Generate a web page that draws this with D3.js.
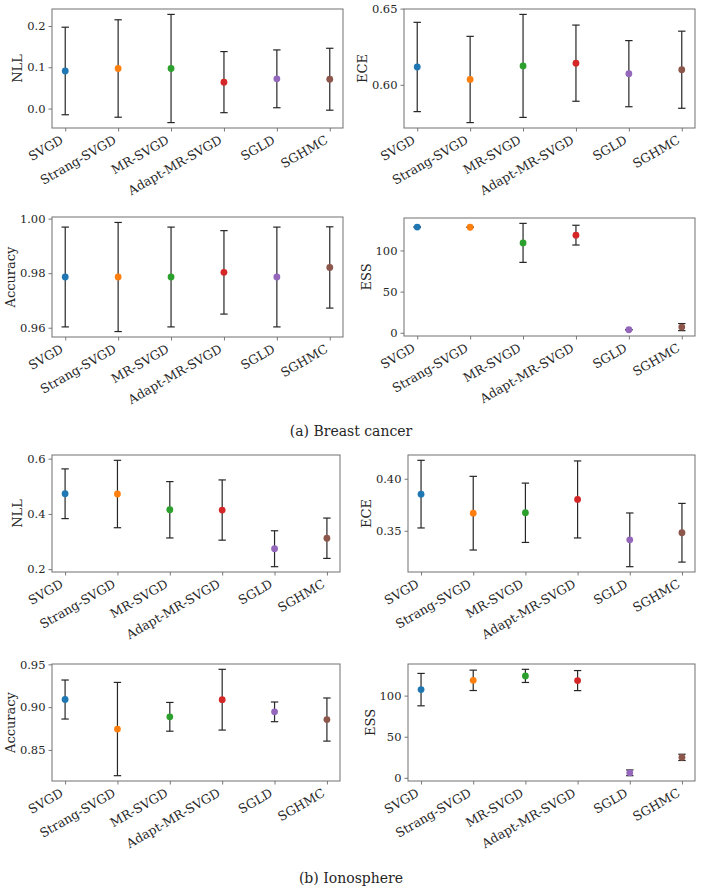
<!DOCTYPE html>
<html>
<head>
<meta charset="utf-8">
<script src="https://cdn.jsdelivr.net/npm/d3@7"></script>
<style>
  body { margin: 0; background: #fff; }
  svg { display: block; }
  svg text { font-family: "DejaVu Serif", serif; fill: #262626; }
</style>
</head>
<body>
<svg id="chart" width="703" height="892" font-family="DejaVu Serif, serif"></svg>
<script>
const methods = ["SVGD", "Strang-SVGD", "MR-SVGD", "Adapt-MR-SVGD", "SGLD", "SGHMC"]
const colors = ["#1f77b4", "#ff7f0e", "#2ca02c", "#d62728", "#9467bd", "#8c564b"]

// (a) Breast cancer
const bcNllMean = [0.091, 0.097, 0.097, 0.064, 0.072, 0.071]
const bcNllErr = [0.106, 0.118, 0.131, 0.074, 0.070, 0.075]
const bcNllTicks = [0.0, 0.1, 0.2]

const bcEceMean = [0.6117, 0.6035, 0.6124, 0.6142, 0.6073, 0.6099]
const bcEceErr = [0.0293, 0.0283, 0.0338, 0.0250, 0.0217, 0.0253]
const bcEceTicks = [0.60, 0.65]

const bcAccMean = [0.9786, 0.9786, 0.9786, 0.9803, 0.9786, 0.9821]
const bcAccErr = [0.0183, 0.0200, 0.0183, 0.0153, 0.0183, 0.0149]
const bcAccTicks = [0.96, 0.98, 1.00]

const bcEssMean = [128.4, 128.2, 109.2, 118.6, 3.7, 6.9]
const bcEssErr = [0, 0, 23.7, 12.0, 0, 4.3]
const bcEssTicks = [0, 50, 100]

// (b) Ionosphere
const ioNllMean = [0.473, 0.472, 0.415, 0.414, 0.274, 0.312]
const ioNllErr = [0.090, 0.122, 0.102, 0.109, 0.065, 0.073]
const ioNllTicks = [0.2, 0.4, 0.6]

const ioEceMean = [0.3852, 0.3669, 0.3673, 0.3801, 0.3413, 0.3481]
const ioEceErr = [0.0325, 0.0354, 0.0285, 0.0370, 0.0258, 0.0282]
const ioEceTicks = [0.35, 0.40]

const ioAccMean = [0.9089, 0.8744, 0.8887, 0.9087, 0.8945, 0.8855]
const ioAccErr = [0.0228, 0.0545, 0.0168, 0.0355, 0.0115, 0.0252]
const ioAccTicks = [0.85, 0.90, 0.95]

const ioEssMean = [107.3, 118.6, 124.0, 118.3, 6.1, 24.9]
const ioEssErr = [19.7, 12.4, 8.0, 12.2, 3.5, 3.8]
const ioEssTicks = [0, 50, 100]

const captions = ["(a) Breast cancer", "(b) Ionosphere"]

const FONT = "DejaVu Serif, serif"

var svg = d3.select("#chart")

// frame boxes of each subplot (layout only)
var panels = [
	{ label: "NLL", mean: bcNllMean, err: bcNllErr, ticks: bcNllTicks, fmt: ".1f", x0: 52, x1: 343, y0: 9, y1: 128 },
	{ label: "ECE", mean: bcEceMean, err: bcEceErr, ticks: bcEceTicks, fmt: ".2f", x0: 404, x1: 695, y0: 9, y1: 128 },
	{ label: "Accuracy", mean: bcAccMean, err: bcAccErr, ticks: bcAccTicks, fmt: ".2f", x0: 52, x1: 343, y0: 217, y1: 337 },
	{ label: "ESS", mean: bcEssMean, err: bcEssErr, ticks: bcEssTicks, fmt: "d", x0: 404, x1: 695, y0: 218, y1: 336 },
	{ label: "NLL", mean: ioNllMean, err: ioNllErr, ticks: ioNllTicks, fmt: ".1f", x0: 52, x1: 340, y0: 455, y1: 572 },
	{ label: "ECE", mean: ioEceMean, err: ioEceErr, ticks: ioEceTicks, fmt: ".2f", x0: 408, x1: 695, y0: 455, y1: 572 },
	{ label: "Accuracy", mean: ioAccMean, err: ioAccErr, ticks: ioAccTicks, fmt: ".2f", x0: 52, x1: 340, y0: 664, y1: 781 },
	{ label: "ESS", mean: ioEssMean, err: ioEssErr, ticks: ioEssTicks, fmt: "d", x0: 408, x1: 695, y0: 664, y1: 781 }
]

function renderPanel(p) {
	var g = svg.append("g")

	var x = d3.scalePoint()
	          .domain(methods)
	          .range([p.x0, p.x1])
	          .padding(0.25)

	// matplotlib style autoscale: 5% margin around error bar extent
	var lo = d3.min(p.mean, function(d, i) { return d - p.err[i] })
	var hi = d3.max(p.mean, function(d, i) { return d + p.err[i] })
	var pad = (hi - lo) * 0.05
	var y = d3.scaleLinear()
	          .domain([lo - pad, hi + pad])
	          .range([p.y1, p.y0])

	// x axis
	var xa = g.append("g")
	 .attr("transform", "translate(0," + p.y1 + ")")
	 .call(d3.axisBottom(x).tickSize(3.5).tickSizeOuter(0).tickFormat(""))
	xa.select(".domain").remove()
	xa.selectAll(".tick line").attr("stroke", "#555").attr("stroke-width", 0.8)

	g.selectAll("text.xlab")
	 .data(methods)
	 .enter()
	 .append("text")
	 .attr("class", "xlab")
	 .attr("transform", function(d) {
		 return "translate(" + (x(d) - 1) + "," + (p.y1 + 14.5) + ") rotate(-30)"
	 })
	 .attr("text-anchor", "end")
	 .attr("font-family", FONT)
	 .attr("font-size", 12.5)
	 .text(function(d) { return d })

	// y axis
	var ya = g.append("g")
	 .attr("transform", "translate(" + p.x0 + ",0)")
	 .call(d3.axisLeft(y).tickValues(p.ticks).tickSize(3.5).tickSizeOuter(0).tickPadding(3)
	         .tickFormat(d3.format(p.fmt)))
	ya.attr("font-family", FONT)
	ya.select(".domain").remove()
	ya.selectAll(".tick line").attr("stroke", "#555").attr("stroke-width", 0.8)
	ya.selectAll(".tick text")
	  .attr("font-family", FONT)
	  .attr("font-size", 11.5)
	  .attr("fill", "#262626")

	var bb = ya.node().getBBox()
	g.append("text")
	 .attr("transform", "translate(" + (p.x0 + bb.x - 5) + "," + ((p.y0 + p.y1) / 2) + ") rotate(-90)")
	 .attr("text-anchor", "middle")
	 .attr("font-family", FONT)
	 .attr("font-size", 13)
	 .text(p.label)

	// frame
	g.append("rect")
	 .attr("x", p.x0)
	 .attr("y", p.y0)
	 .attr("width", p.x1 - p.x0)
	 .attr("height", p.y1 - p.y0)
	 .attr("fill", "none")
	 .attr("stroke", "#707070")
	 .attr("stroke-width", 1)

	var rows = methods.map(function(m, i) {
		return { m: m, v: p.mean[i], e: p.err[i], c: colors[i] }
	})

	// error bars
	var eb = g.selectAll("g.eb")
	 .data(rows)
	 .enter()
	 .append("g")
	 .attr("class", "eb")
	 .attr("stroke", "#262626")
	 .attr("stroke-width", 1.2)
	eb.append("line")
	 .attr("x1", function(d) { return x(d.m) })
	 .attr("x2", function(d) { return x(d.m) })
	 .attr("y1", function(d) { return y(d.v - d.e) })
	 .attr("y2", function(d) { return y(d.v + d.e) })
	eb.append("line")
	 .attr("x1", function(d) { return x(d.m) - 3.7 })
	 .attr("x2", function(d) { return x(d.m) + 3.7 })
	 .attr("y1", function(d) { return y(d.v + d.e) })
	 .attr("y2", function(d) { return y(d.v + d.e) })
	eb.append("line")
	 .attr("x1", function(d) { return x(d.m) - 3.7 })
	 .attr("x2", function(d) { return x(d.m) + 3.7 })
	 .attr("y1", function(d) { return y(d.v - d.e) })
	 .attr("y2", function(d) { return y(d.v - d.e) })

	// markers
	g.selectAll("circle")
	 .data(rows)
	 .enter()
	 .append("circle")
	 .attr("cx", function(d) { return x(d.m) })
	 .attr("cy", function(d) { return y(d.v) })
	 .attr("r", 3.4)
	 .attr("fill", function(d) { return d.c })
}

panels.forEach(renderPanel)

captions.forEach(function(c, i) {
	svg.append("text")
	 .attr("x", 351)
	 .attr("y", i == 0 ? 436 : 883)
	 .attr("text-anchor", "middle")
	 .attr("font-family", FONT)
	 .attr("font-size", 14)
	 .attr("fill", "#111")
	 .text(c)
})
</script>
</body>
</html>
